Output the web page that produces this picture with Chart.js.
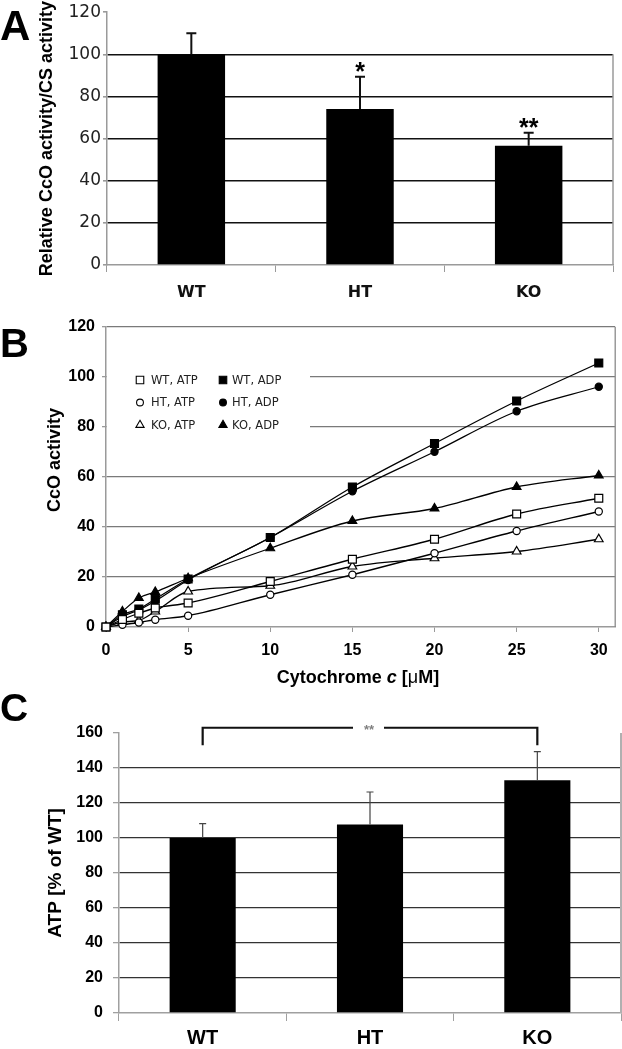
<!DOCTYPE html>
<html>
<head>
<meta charset="utf-8">
<script src="https://cdn.jsdelivr.net/npm/chart.js@4.4.1/dist/chart.umd.min.js"></script>
<style>
    body { margin: 0; background: #fff; }
    #page { position: relative; width: 622px; height: 1049px; overflow: hidden; }
    canvas { position: absolute; left: 0; }
</style>
</head>
<body>
<div id="page">
    <canvas id="chartA" width="622" height="300" style="top:0px"></canvas>
    <canvas id="chartB" width="622" height="390" style="top:300px"></canvas>
    <canvas id="chartC" width="622" height="359" style="top:690px"></canvas>
</div>
<script>
// panel A - relative CcO activity
var groups = ['WT', 'HT', 'KO'];
var ccoRelative = [100, 74, 56.6];
var ccoRelativeErr = [10, 15.3, 6.2];
var ccoStars = ['', '*', '**'];

// panel B - CcO kinetics vs cytochrome c
var cytC = [0, 1, 2, 3, 5, 10, 15, 20, 25, 30];
var wtAtp = [0, 3, 5.5, 7.6, 9.6, 18.2, 27.1, 35.1, 45.2, 51.5];
var htAtp = [0, 0.9, 1.8, 2.9, 4.5, 12.9, 20.9, 29.5, 38.4, 46.2];
var koAtp = [0, 2, 2.6, 6.2, 14.2, 16.5, 24.2, 27.5, 30.2, 35.1];
var wtAdp = [0, 4.9, 7.2, 11.2, 19.2, 35.8, 56, 73.4, 90.4, 105.6];
var htAdp = [0, 4.2, 6.8, 10.4, 18.8, 35.8, 54.3, 70.1, 86.3, 96.1];
var koAdp = [0, 6.2, 11.6, 14, 19.5, 31.5, 42.4, 47.4, 56, 60.6];
var cytCTicks = [0, 5, 10, 15, 20, 25, 30];

// panel C - ATP levels
var atpLevel = [100, 107.7, 133];
var atpErr = [8.2, 18.6, 16.4];

var ARIAL = '"Liberation Sans", Arial, sans-serif';
var VERDANA = '"DejaVu Sans", Verdana, sans-serif';

function letterPlugin(letter, x, y, size) {
    return {
        id: 'letter' + letter,
        afterDraw: function (chart) {
            var ctx = chart.ctx;
            ctx.save();
            ctx.font = 'bold ' + size + 'px ' + ARIAL;
            ctx.fillStyle = '#000';
            ctx.textBaseline = 'alphabetic';
            ctx.fillText(letter, x, y);
            ctx.restore();
        }
    };
}

function errorBarPlugin(errors, opts) {
    return {
        id: 'errorBars',
        afterDatasetsDraw: function (chart) {
            var ctx = chart.ctx;
            var meta = chart.getDatasetMeta(0);
            var yScale = chart.scales.y;
            var values = chart.data.datasets[0].data;
            ctx.save();
            ctx.strokeStyle = opts.color;
            ctx.lineWidth = opts.width;
            meta.data.forEach(function (bar, i) {
                var yTop = yScale.getPixelForValue(values[i] + errors[i]);
                ctx.beginPath();
                ctx.moveTo(bar.x, bar.y);
                ctx.lineTo(bar.x, yTop);
                ctx.moveTo(bar.x - opts.cap, yTop);
                ctx.lineTo(bar.x + opts.cap, yTop);
                ctx.stroke();
                if (opts.stars && opts.stars[i]) {
                    ctx.fillStyle = '#000';
                    ctx.font = 'bold 25px ' + ARIAL;
                    ctx.textAlign = 'center';
                    ctx.textBaseline = 'alphabetic';
                    ctx.fillText(opts.stars[i], bar.x, yTop + 3);
                }
            });
            ctx.restore();
        }
    };
}

function rightBorderPlugin(fromValue, color, width) {
    return {
        id: 'rightBorder',
        afterDraw: function (chart) {
            var ctx = chart.ctx;
            var area = chart.chartArea;
            var y0 = fromValue == null ? area.top : chart.scales.y.getPixelForValue(fromValue);
            ctx.save();
            ctx.strokeStyle = color;
            ctx.lineWidth = width;
            ctx.beginPath();
            ctx.moveTo(area.right, y0);
            ctx.lineTo(area.right, area.bottom);
            ctx.stroke();
            ctx.restore();
        }
    };
}

function noZeroGrid(color) {
    return function (ctx) {
        if (ctx.tick.value === 0) return 'rgba(0,0,0,0)';
        return color;
    };
}

// ---------------- panel A ----------------
new Chart(document.getElementById('chartA'), {
    type: 'bar',
    data: {
        labels: groups,
        datasets: [{
            data: ccoRelative,
            backgroundColor: '#000',
            borderWidth: 0,
            barPercentage: 0.4,
            categoryPercentage: 1
        }]
    },
    options: {
        responsive: false,
        animation: false,
        layout: { padding: { top: 12, right: 9, left: 0, bottom: 0 } },
        plugins: { legend: { display: false }, tooltip: { enabled: false } },
        scales: {
            x: {
                offset: true,
                grid: { offset: true, drawOnChartArea: false, drawTicks: true, tickLength: 7, tickColor: '#9a9a9a' },
                border: { color: '#9a9a9a', width: 1.5 },
                ticks: { font: { family: VERDANA, size: 16, weight: 'bold' }, color: '#111', padding: 11 },
                afterFit: function (scale) { scale.height = 35; }
            },
            y: {
                min: 0,
                max: 120,
                ticks: { stepSize: 20, font: { family: VERDANA, size: 17 }, color: '#222', padding: 2 },
                grid: {
                    color: function (ctx) {
                        if (ctx.tick.value === 0 || ctx.tick.value === 120) return 'rgba(0,0,0,0)';
                        return '#111';
                    },
                    lineWidth: 1.6,
                    tickLength: 4,
                    tickColor: '#9a9a9a'
                },
                border: { color: '#9a9a9a', width: 1.5 },
                title: {
                    display: true,
                    text: 'Relative CcO activity/CS activity',
                    font: { family: ARIAL, size: 18, weight: 'bold' },
                    color: '#000',
                    padding: { top: 36, bottom: 0 }
                },
                afterFit: function (scale) { scale.width = 107; }
            }
        }
    },
    plugins: [
        errorBarPlugin(ccoRelativeErr, { color: '#111', width: 2, cap: 5, stars: ccoStars }),
        rightBorderPlugin(100, '#9a9a9a', 1.5),
        letterPlugin('A', 0, 40, 42)
    ]
});

// ---------------- panel B ----------------
function toPoints(values) {
    return cytC.map(function (c, i) { return { x: c, y: values[i] }; });
}

function series(label, values, style, radius, filled) {
    return {
        label: label,
        data: toPoints(values),
        borderColor: '#000',
        borderWidth: 1.3,
        cubicInterpolationMode: 'monotone',
        pointStyle: style,
        pointRadius: radius,
        pointBorderWidth: 1.2,
        pointBorderColor: '#000',
        pointBackgroundColor: filled ? '#000' : '#fff',
        clip: false,
        fill: false
    };
}

function drawMarker(ctx, style, r, x, y, filled) {
    ctx.beginPath();
    if (style === 'rect') {
        var s = r * Math.SQRT1_2;
        ctx.rect(x - s, y - s, 2 * s, 2 * s);
    } else if (style === 'triangle') {
        ctx.moveTo(x, y - r);
        ctx.lineTo(x + r * Math.sin(Math.PI / 3), y + r * 0.5);
        ctx.lineTo(x - r * Math.sin(Math.PI / 3), y + r * 0.5);
        ctx.closePath();
    } else {
        ctx.arc(x, y, r, 0, Math.PI * 2);
    }
    ctx.fillStyle = filled ? '#000' : '#fff';
    ctx.fill();
    ctx.strokeStyle = '#000';
    ctx.lineWidth = 1.1;
    ctx.stroke();
}

var kineticsLegend = {
    id: 'kineticsLegend',
    beforeDatasetsDraw: function (chart) {
        var ctx = chart.ctx;
        var area = chart.chartArea;
        var cols = [{ mx: 140, tx: 151 }, { mx: 223, tx: 232 }];
        var rows = [80, 102.5, 125];
        var order = [[0, 3], [1, 4], [2, 5]];
        ctx.save();
        ctx.fillStyle = '#fff';
        ctx.fillRect(area.left + 1, 50, 310 - area.left - 1, 100);
        ctx.font = '11.5px ' + VERDANA;
        ctx.textBaseline = 'middle';
        order.forEach(function (pair, r) {
            pair.forEach(function (di, c) {
                var ds = chart.data.datasets[di];
                drawMarker(ctx, ds.pointStyle, ds.pointRadius * 0.95, cols[c].mx, rows[r], ds.pointBackgroundColor === '#000');
                ctx.fillStyle = '#222';
                ctx.fillText(ds.label, cols[c].tx, rows[r] + 1);
            });
        });
        ctx.restore();
    }
};

var kineticsTitles = {
    id: 'kineticsTitles',
    afterDraw: function (chart) {
        var ctx = chart.ctx;
        ctx.save();
        ctx.fillStyle = '#000';
        ctx.textBaseline = 'middle';
        // y title
        ctx.save();
        ctx.translate(55, 160);
        ctx.rotate(-Math.PI / 2);
        ctx.textAlign = 'center';
        ctx.font = 'bold 18px ' + ARIAL;
        ctx.fillText('CcO activity', 0, 0);
        ctx.restore();
        // x title with italic c
        var parts = [
            { t: 'Cytochrome ', f: 'bold 18px ' + ARIAL },
            { t: 'c', f: 'italic bold 18px ' + ARIAL },
            { t: ' [', f: 'bold 18px ' + ARIAL },
            { t: '\u03bc', f: '18px ' + ARIAL },
            { t: 'M]', f: 'bold 18px ' + ARIAL }
        ];
        var total = 0;
        parts.forEach(function (p) { ctx.font = p.f; p.w = ctx.measureText(p.t).width; total += p.w; });
        var x = 358 - total / 2;
        ctx.textAlign = 'left';
        parts.forEach(function (p) { ctx.font = p.f; ctx.fillText(p.t, x, 378); x += p.w; });
        ctx.restore();
    }
};

new Chart(document.getElementById('chartB'), {
    type: 'line',
    data: {
        datasets: [
            series('WT, ATP', wtAtp, 'rect', 5.6, false),
            series('HT, ATP', htAtp, 'circle', 3.6, false),
            series('KO, ATP', koAtp, 'triangle', 5, false),
            series('WT, ADP', wtAdp, 'rect', 5.6, true),
            series('HT, ADP', htAdp, 'circle', 3.6, true),
            series('KO, ADP', koAdp, 'triangle', 5, true)
        ]
    },
    options: {
        responsive: false,
        animation: false,
        layout: { padding: { top: 27, right: 3, left: 0, bottom: 0 } },
        plugins: { legend: { display: false }, tooltip: { enabled: false } },
        scales: {
            x: {
                type: 'linear',
                min: 0,
                max: 31,
                afterBuildTicks: function (scale) {
                    scale.ticks = cytCTicks.map(function (v) { return { value: v }; });
                },
                ticks: { font: { family: ARIAL, size: 16, weight: 'bold' }, color: '#000', padding: 9 },
                grid: { drawOnChartArea: false, drawTicks: true, tickLength: 5, tickColor: '#9a9a9a' },
                border: { color: '#9a9a9a', width: 1.5 },
                afterFit: function (scale) { scale.height = 63; }
            },
            y: {
                min: 0,
                max: 120,
                ticks: { stepSize: 20, font: { family: ARIAL, size: 16, weight: 'bold' }, color: '#000', padding: 7 },
                grid: { color: noZeroGrid('#7a7a7a'), lineWidth: 1.3, tickLength: 4, tickColor: '#9a9a9a' },
                border: { color: '#9a9a9a', width: 1.5 },
                afterFit: function (scale) { scale.width = 106; }
            }
        }
    },
    plugins: [
        kineticsLegend,
        kineticsTitles,
        rightBorderPlugin(null, '#8a8a8a', 1.3),
        letterPlugin('B', 0, 57, 40)
    ]
});

// ---------------- panel C ----------------
var bracketPlugin = {
    id: 'bracket',
    afterDraw: function (chart) {
        var ctx = chart.ctx;
        var xs = chart.scales.x;
        var ys = chart.scales.y;
        var xL = xs.getPixelForValue(0);
        var xR = xs.getPixelForValue(2);
        var xM = xs.getPixelForValue(1);
        var yTop = ys.getPixelForValue(163);
        var yFoot = ys.getPixelForValue(153);
        ctx.save();
        ctx.strokeStyle = '#111';
        ctx.lineWidth = 2.2;
        ctx.beginPath();
        ctx.moveTo(xL, yFoot);
        ctx.lineTo(xL, yTop);
        ctx.lineTo(xM - 17, yTop);
        ctx.moveTo(xM + 14, yTop);
        ctx.lineTo(xR, yTop);
        ctx.lineTo(xR, yFoot);
        ctx.stroke();
        ctx.fillStyle = '#808080';
        ctx.font = 'bold 13px ' + ARIAL;
        ctx.textAlign = 'center';
        ctx.textBaseline = 'middle';
        ctx.fillText('**', xM - 1, yTop + 3);
        ctx.restore();
    }
};

new Chart(document.getElementById('chartC'), {
    type: 'bar',
    data: {
        labels: groups,
        datasets: [{
            data: atpLevel,
            backgroundColor: '#000',
            borderWidth: 0,
            barPercentage: 0.395,
            categoryPercentage: 1
        }]
    },
    options: {
        responsive: false,
        animation: false,
        layout: { padding: { top: 43, right: 1, left: 0, bottom: 0 } },
        plugins: { legend: { display: false }, tooltip: { enabled: false } },
        scales: {
            x: {
                offset: true,
                grid: { offset: true, drawOnChartArea: false, drawTicks: true, tickLength: 8, tickColor: '#a0a0a0' },
                border: { color: '#a0a0a0', width: 1.5 },
                ticks: { font: { family: ARIAL, size: 20, weight: 'bold' }, color: '#000', padding: 5 },
                afterFit: function (scale) { scale.height = 36; }
            },
            y: {
                min: 0,
                max: 160,
                ticks: { stepSize: 20, font: { family: ARIAL, size: 16, weight: 'bold' }, color: '#000', padding: 10 },
                grid: {
                    color: function (ctx) {
                        if (ctx.tick.value === 0 || ctx.tick.value === 160) return 'rgba(0,0,0,0)';
                        return '#333';
                    },
                    lineWidth: 1.3,
                    tickLength: 6,
                    tickColor: '#a0a0a0'
                },
                border: { color: '#a0a0a0', width: 1.5 },
                title: {
                    display: true,
                    text: 'ATP [% of WT]',
                    font: { family: ARIAL, size: 19, weight: 'bold' },
                    color: '#000',
                    padding: { top: 44, bottom: 0 }
                },
                afterFit: function (scale) { scale.width = 119; }
            }
        }
    },
    plugins: [
        errorBarPlugin(atpErr, { color: '#444', width: 1.2, cap: 3.5 }),
        bracketPlugin,
        rightBorderPlugin(null, '#b0b0b0', 2),
        letterPlugin('C', 0, 31, 39)
    ]
});
</script>
</body>
</html>
